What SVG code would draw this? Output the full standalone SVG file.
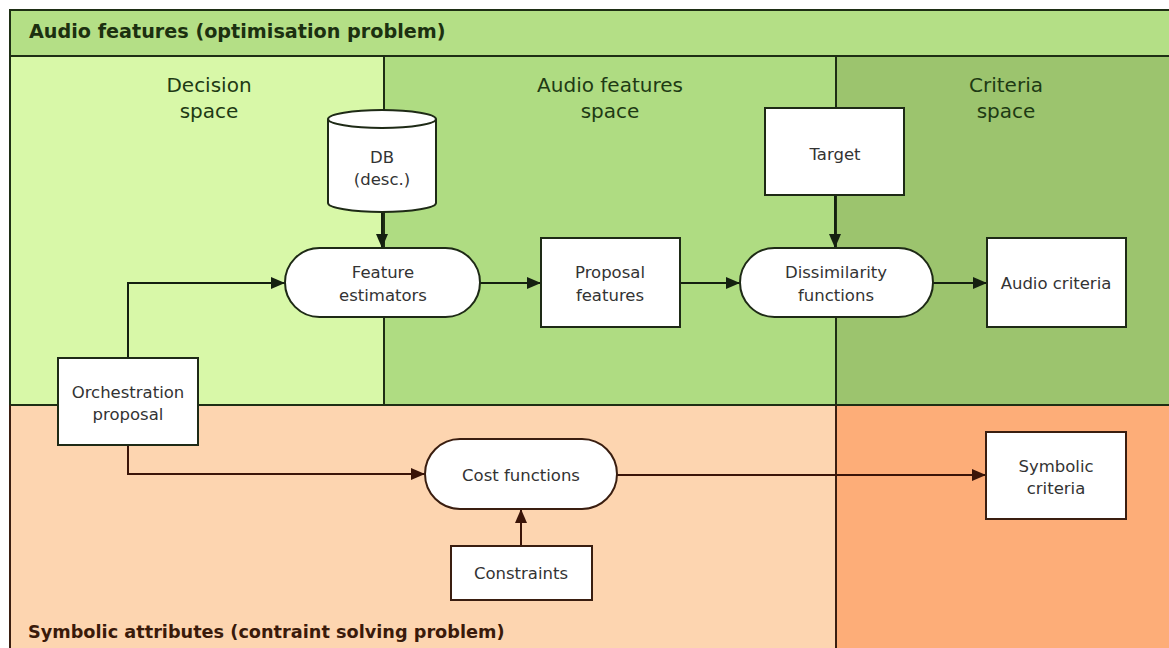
<svg xmlns="http://www.w3.org/2000/svg" width="1169" height="648" viewBox="0 0 1169 648">
<style>
.node{fill:#fff;stroke:#1e2a16;stroke-width:2}
.nodeo{fill:#fff;stroke:#3a1e10;stroke-width:2}
.nt{font-family:"DejaVu Sans",sans-serif;font-size:16.5px;fill:#333;text-anchor:middle}
.sl{font-family:"DejaVu Sans",sans-serif;font-size:20px;fill:#1e3a14;text-anchor:middle}
.hd{font-family:"DejaVu Sans",sans-serif;font-weight:bold;font-size:19.2px;fill:#1c3010}
.hdo{font-family:"DejaVu Sans",sans-serif;font-weight:bold;font-size:17.7px;fill:#3a1a0a}
.div{stroke:#1e2e14;stroke-width:2;fill:none}
.divo{stroke:#3a1e10;stroke-width:2;fill:none}
.c{stroke:#142010;stroke-width:2;fill:none;marker-end:url(#ah)}
.co{stroke:#3a1408;stroke-width:2;fill:none;marker-end:url(#aho)}
</style>
<defs>
<marker id="ah" viewBox="0 0 14 12" refX="14" refY="6" markerWidth="14" markerHeight="12" markerUnits="userSpaceOnUse" orient="auto">
<path d="M0,0 L14,6 L0,12 z" fill="#142010"/>
</marker>
<marker id="aho" viewBox="0 0 14 12" refX="14" refY="6" markerWidth="14" markerHeight="12" markerUnits="userSpaceOnUse" orient="auto">
<path d="M0,0 L14,6 L0,12 z" fill="#3a1408"/>
</marker>
</defs>
<rect width="1169" height="648" fill="#fff"/>
<g id="regions">
<rect x="10" y="10" width="1170" height="46" fill="#b4df86"/>
<rect x="10" y="56" width="374" height="349" fill="#d8f8a8"/>
<rect x="384" y="56" width="452" height="349" fill="#afdc82"/>
<rect x="836" y="56" width="344" height="349" fill="#9cc46e"/>
<rect x="10" y="405" width="826" height="260" fill="#fdd5b0"/>
<rect x="836" y="405" width="344" height="260" fill="#fdad78"/>
<path class="div" d="M10,405 V10 H1180 M10,56 H1180 M10,405 H1180 M384,56 V405 M836,56 V405"/>
<path class="divo" d="M836,405 V660 M10,405 V660"/>
<text class="hd" x="29" y="38">Audio features (optimisation problem)</text>
<text class="hdo" x="28" y="638">Symbolic attributes (contraint solving problem)</text>
<text class="sl" x="209" y="92">Decision</text>
<text class="sl" x="209" y="118">space</text>
<text class="sl" x="610" y="92">Audio features</text>
<text class="sl" x="610" y="118">space</text>
<text class="sl" x="1006" y="92">Criteria</text>
<text class="sl" x="1006" y="118">space</text>
</g>
<g id="connectors">
<path class="c" d="M382,212 V248"/>
<path class="c" d="M128,358 V283 H285"/>
<path class="c" d="M480,283 H541"/>
<path class="c" d="M680,283 H740"/>
<path class="c" d="M835,195 V248"/>
<path class="c" d="M933,283 H987"/>
<path class="co" d="M128,445 V474 H425"/>
<path class="co" d="M521,546 V509"/>
<path class="co" d="M617,475 H986"/>
</g>
<g id="db">
<path class="node" d="M328,119 V203 A54,9 0 0 0 436,203 V119 A54,9 0 0 0 328,119 Z"/>
<path class="node" d="M328,119 A54,9 0 0 0 436,119" fill="none"/>
<text class="nt" x="382" y="163">DB</text>
<text class="nt" x="382" y="185">(desc.)</text>
</g>
<g id="feature-estimators">
<rect class="node" x="285" y="248" width="195" height="69" rx="34.5"/>
<text class="nt" x="383" y="278">Feature</text>
<text class="nt" x="383" y="301">estimators</text>
</g>
<g id="proposal-features">
<rect class="node" x="541" y="238" width="139" height="89"/>
<text class="nt" x="610" y="278">Proposal</text>
<text class="nt" x="610" y="301">features</text>
</g>
<g id="target">
<rect class="node" x="765" y="108" width="139" height="87"/>
<text class="nt" x="835" y="160">Target</text>
</g>
<g id="dissimilarity-functions">
<rect class="node" x="740" y="248" width="193" height="69" rx="34.5"/>
<text class="nt" x="836" y="278">Dissimilarity</text>
<text class="nt" x="836" y="301">functions</text>
</g>
<g id="audio-criteria">
<rect class="node" x="987" y="238" width="139" height="89"/>
<text class="nt" x="1056" y="289">Audio criteria</text>
</g>
<g id="orchestration-proposal">
<rect class="node" x="58" y="358" width="140" height="87"/>
<text class="nt" x="128" y="398">Orchestration</text>
<text class="nt" x="128" y="420">proposal</text>
</g>
<g id="cost-functions">
<rect class="nodeo" x="425" y="439" width="192" height="70" rx="35"/>
<text class="nt" x="521" y="481">Cost functions</text>
</g>
<g id="constraints">
<rect class="nodeo" x="451" y="546" width="141" height="54"/>
<text class="nt" x="521" y="579">Constraints</text>
</g>
<g id="symbolic-criteria">
<rect class="nodeo" x="986" y="432" width="140" height="87"/>
<text class="nt" x="1056" y="472">Symbolic</text>
<text class="nt" x="1056" y="494">criteria</text>
</g>
</svg>
